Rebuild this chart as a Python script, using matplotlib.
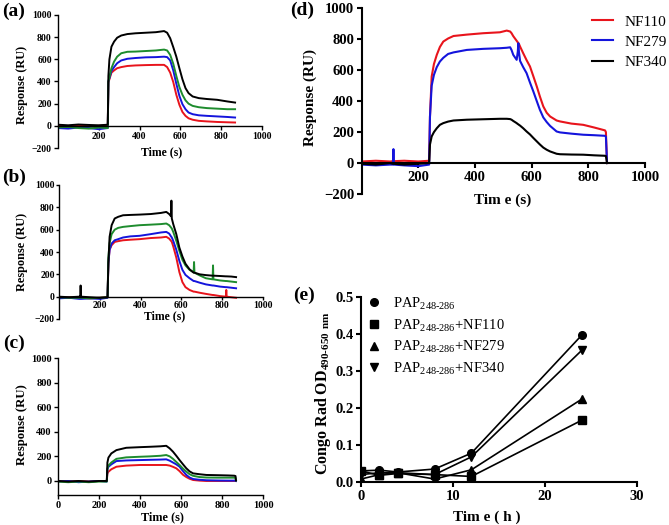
import matplotlib
matplotlib.use('Agg')
import matplotlib.pyplot as plt
from matplotlib.lines import Line2D

plt.rcParams['font.family'] = ['Liberation Serif', 'DejaVu Serif']
plt.rcParams['font.weight'] = 'bold'
plt.rcParams['axes.linewidth'] = 1.1

RED = '#e8141c'
BLUE = '#1414dc'
GREEN = '#1e8c2e'
BLACK = '#000000'

# ---------------- Panel (a) ----------------
t_a = [0, 50, 100, 150, 200, 244, 247, 252, 262, 275, 290, 310, 340, 380, 430, 480, 520,
       535, 550, 565, 580, 595, 610, 625, 640, 660, 690, 730, 780, 830, 868]
a_black = [10, 5, 12, 8, 5, 10, 450, 600, 714, 760, 795, 815, 828, 835, 840, 845, 855,
           840, 790, 710, 624, 520, 420, 340, 295, 265, 250, 242, 235, 220, 210]
a_green = [-15, -10, -20, -25, -15, -20, 400, 440, 520, 580, 624, 655, 668, 670, 675, 680, 688,
           680, 640, 560, 450, 350, 280, 230, 200, 180, 168, 160, 155, 150, 150]
a_blue = [-20, -25, -15, -20, -30, -20, 400, 430, 495, 530, 565, 590, 605, 612, 618, 620, 624,
          620, 590, 500, 380, 270, 195, 150, 120, 105, 95, 90, 85, 80, 75]
a_red = [0, -5, 5, -5, 0, 5, 390, 420, 480, 500, 520, 530, 540, 545, 548, 550, 550,
         530, 480, 395, 280, 190, 125, 90, 68, 55, 45, 40, 35, 32, 30]

# ---------------- Panel (b) ----------------
t_b = [0, 50, 100, 104, 106, 108, 150, 200, 238, 242, 248, 258, 273, 290, 314, 350, 395, 450,
       500, 526, 540, 549, 551, 553, 560, 575, 590, 605, 620, 640, 660, 662, 664, 690, 720,
       753, 755, 757, 790, 818, 820, 822, 845, 868]
b_black = [0, -5, 0, 0, 100, 0, -5, -10, -5, 300, 536, 640, 700, 715, 729, 732, 735, 740,
           750, 759, 740, 720, 860, 700, 650, 560, 440, 360, 295, 245, 215, 215, 215, 200, 193,
           188, 188, 188, 185, 182, 182, 182, 180, 175]
b_green = [-5, -10, -10, -10, -10, -10, -15, -10, -5, 350, 480, 560, 600, 616, 625, 632, 640, 645,
           650, 655, 640, 620, 615, 610, 580, 500, 410, 330, 280, 240, 218, 310, 215, 190, 165,
           155, 280, 155, 145, 140, 140, 140, 135, 130]
b_blue = [-15, -10, -20, -20, -20, -20, -15, -20, -10, 300, 420, 476, 505, 515, 530, 540, 545, 560,
          575, 580, 565, 540, 535, 530, 500, 420, 320, 240, 195, 165, 140, 140, 140, 125, 110,
          100, 100, 100, 90, 85, 85, 85, 80, 75]
b_red = [-10, -5, -10, -10, -10, -10, -15, -10, -5, 300, 420, 461, 490, 497, 505, 510, 515, 525,
         530, 536, 520, 500, 495, 490, 450, 350, 220, 130, 85, 60, 45, 45, 45, 35, 25,
         15, 15, 15, 5, 0, 60, 0, -5, -10]

# ---------------- Panel (c) ----------------
t_c = [0, 50, 100, 150, 200, 238, 241, 246, 260, 285, 333, 400, 447, 500, 528, 545, 561, 577,
       593, 610, 626, 642, 659, 690, 724, 780, 830, 860, 866, 868]
c_black = [0, -5, 0, -5, 0, 0, 150, 190, 224, 251, 270, 275, 278, 282, 286, 265, 238, 205,
           170, 135, 103, 78, 62, 55, 49, 47, 45, 43, 40, 5]
c_green = [-5, -10, -5, -10, -5, -5, 100, 125, 150, 180, 192, 197, 200, 205, 211, 200, 180, 155,
           130, 100, 76, 55, 42, 32, 28, 27, 27, 27, 25, 5]
c_blue = [-5, 0, -10, -5, 0, -5, 95, 115, 135, 162, 167, 170, 172, 174, 176, 165, 150, 135,
          116, 80, 49, 28, 16, 10, 6, 4, 3, 3, 2, 0]
c_red = [0, -5, 0, -5, 0, 0, 60, 75, 95, 116, 125, 130, 130, 130, 130, 125, 115, 103,
         80, 50, 32, 18, 8, 3, 0, 0, 0, 0, 0, 0]

# ---------------- Panel (d) ----------------
t_d = [0, 50, 100, 110, 112, 114, 150, 200, 238, 241, 247, 255, 265, 276, 288, 305, 324, 371,
       429, 488, 512, 524, 529, 535, 547, 551, 553, 555, 559, 570, 582, 594, 606, 618, 629,
       641, 653, 665, 688, 700, 740, 782, 820, 859, 862, 866]
d_nf110 = [10, 15, 10, 12, 12, 12, 15, 10, 15, 300, 559, 640, 699, 750, 785, 805, 821, 830,
           839, 845, 856, 850, 839, 820, 790, 780, 775, 770, 753, 710, 665, 624, 560, 495, 430,
           366, 325, 301, 275, 269, 255, 247, 230, 211, 200, 0]
d_nf279 = [-10, -15, -10, -10, 90, -10, -15, -20, -10, 300, 500, 570, 620, 656, 680, 705, 715, 731,
           738, 742, 745, 748, 730, 699, 667, 720, 774, 720, 660, 620, 581, 520, 462, 400, 344,
           295, 265, 240, 204, 198, 190, 183, 180, 176, 170, 0]
d_nf340 = [-5, -10, 0, -5, -5, -5, -10, -5, 0, 120, 172, 200, 225, 247, 258, 268, 275, 280,
           283, 286, 286, 284, 280, 272, 258, 252, 250, 247, 242, 225, 204, 185, 162, 140, 120,
           100, 86, 75, 60, 57, 55, 54, 50, 47, 45, 0]
d_labels = ['NF110', 'NF279', 'NF340']

# ---------------- Panel (e) ----------------
t_e = [0, 2, 4, 8, 12, 24]
e_pap = [0.030, 0.032, 0.027, 0.035, 0.078, 0.397]
e_nf110 = [0.030, 0.018, 0.023, 0.020, 0.015, 0.167]
e_nf279 = [0.008, 0.020, 0.025, 0.008, 0.033, 0.224]
e_nf340 = [0.020, 0.025, 0.025, 0.020, 0.068, 0.356]
e_labels = ['PAP$_{\\mathregular{248\u2010286}}$',
            'PAP$_{\\mathregular{248\u2010286}}$+NF110',
            'PAP$_{\\mathregular{248\u2010286}}$+NF279',
            'PAP$_{\\mathregular{248\u2010286}}$+NF340']

W, H = 669, 525
fig = plt.figure(figsize=(W / 100, H / 100), dpi=100)


def add_ax(x0, x1, ytop, ybot):
    ax = fig.add_axes([x0 / W, 1 - ybot / H, (x1 - x0) / W, (ybot - ytop) / H])
    ax._px = (x0, x1, ytop, ybot)
    return ax


def style(ax, size, lw, length=3.0, pad=1.5):
    for s in ('top', 'right'):
        ax.spines[s].set_visible(False)
    for s in ('left', 'bottom'):
        ax.spines[s].set_linewidth(lw)
    ax.tick_params(direction='out', length=length, width=lw, labelsize=size, pad=pad)
    for lab in ax.get_xticklabels() + ax.get_yticklabels():
        lab.set_fontweight('bold')


def set_labels(ax, xl, xpos, yl, ypos, xsize, ysize):
    x0, x1, ytop, ybot = ax._px
    ax.set_xlabel(xl, fontsize=xsize, fontweight='bold')
    ax.xaxis.set_label_coords((xpos[0] - x0) / (x1 - x0), (ybot - xpos[1]) / (ybot - ytop))
    ax.xaxis.label.set_va('center')
    ax.set_ylabel(yl, fontsize=ysize, fontweight='bold')
    ax.yaxis.set_label_coords((ypos[0] - x0) / (x1 - x0), (ybot - ypos[1]) / (ybot - ytop))
    ax.yaxis.label.set_va('center')


def sensor_panel(ax, t, series, ylim, zero_axis, xticks, lw_line):
    for vals, c in series:
        ax.plot(t, vals, color=c, lw=lw_line, solid_joinstyle='round')
    ax.set_xlim(0, 1000)
    ax.set_ylim(*ylim)
    if zero_axis:
        ax.spines['bottom'].set_position(('data', 0))
        ax.set_yticks(range(-200, 1001, 200))
    else:
        ax.set_yticks(range(0, 1001, 200))
    ax.set_xticks(xticks)


# (a)
ax_a = add_ax(58, 262, 15, 148)
sensor_panel(ax_a, t_a, [(a_red, RED), (a_blue, BLUE), (a_green, GREEN), (a_black, BLACK)],
             (-200, 1000), True, [200, 400, 600, 800, 1000], 1.4)
style(ax_a, 7, 1.0)
set_labels(ax_a, 'Time (s)', (162, 152.5), 'Response (RU)', (22, 85), 8.5, 8.8)

# (b)
ax_b = add_ax(59, 263, 185, 319)
sensor_panel(ax_b, t_b, [(b_red, RED), (b_blue, BLUE), (b_green, GREEN), (b_black, BLACK)],
             (-200, 1000), True, [200, 400, 600, 800, 1000], 1.4)
style(ax_b, 7, 1.0, length=2.5, pad=0.6)
set_labels(ax_b, 'Time (s)', (165, 316.5), 'Response (RU)', (22, 252), 8.5, 8.8)

# (c)
ax_c = add_ax(58, 263, 358, 495)
sensor_panel(ax_c, t_c, [(c_red, RED), (c_blue, BLUE), (c_green, GREEN), (c_black, BLACK)],
             (-114, 1000), False, [0, 200, 400, 600, 800, 1000], 1.4)
style(ax_c, 7.5, 1.0)
set_labels(ax_c, 'Time (s)', (162, 517.5), 'Response (RU)', (22, 425), 8.8, 9.2)

# (d)
ax_d = add_ax(361.7, 645, 8.3, 194)
for vals, c, lab in [(d_nf110, RED, d_labels[0]), (d_nf279, BLUE, d_labels[1]),
                     (d_nf340, BLACK, d_labels[2])]:
    ax_d.plot(t_d, vals, color=c, lw=1.5, label=lab)
ax_d.set_xlim(0, 1000)
ax_d.set_ylim(-200, 1000)
ax_d.spines['bottom'].set_position(('data', 0))
ax_d.set_yticks(range(-200, 1001, 200))
ax_d.set_xticks([200, 400, 600, 800, 1000])
style(ax_d, 10.5, 1.5, length=3.5, pad=2)
set_labels(ax_d, 'Tim e (s)', (503, 200), 'Response (RU)', (310, 97), 11, 11)
leg_d = ax_d.legend(loc='upper left', bbox_to_anchor=(592 / W, 1 - 15 / H),
                    bbox_transform=fig.transFigure, frameon=False, borderpad=0,
                    borderaxespad=0, handlelength=1.35, handletextpad=0.75,
                    labelspacing=0.42, prop={'family': 'Liberation Serif', 'weight': 'normal',
                                              'size': 11})

# (e)
ax_e = add_ax(361, 637, 297, 482)
markers = ['o', 's', '^', 'v']
handles = []
for vals, m, lab in zip([e_pap, e_nf110, e_nf279, e_nf340], markers, e_labels):
    ax_e.plot(t_e, vals, color='black', lw=1.2, marker=m, markersize=5.5)
    handles.append(Line2D([], [], color='black', marker=m, markersize=5.5, linestyle='none',
                          label=lab))
ax_e.set_xlim(0, 30)
ax_e.set_ylim(0, 0.5)
ax_e.set_xticks([0, 10, 20, 30])
ax_e.set_yticks([0.0, 0.1, 0.2, 0.3, 0.4, 0.5])
ax_e.set_yticklabels(['0.0', '0.1', '0.2', '0.3', '0.4', '0.5'])
style(ax_e, 10.5, 1.5, length=3.5, pad=2)
set_labels(ax_e, 'Tim e ( h )', (487, 517), 'Congo Rad OD$_{\\mathregular{490\u2010650\\ nm}}$',
           (323, 393), 11, 11.5)
ax_e.legend(handles=handles, loc='upper left', bbox_to_anchor=(368 / W, 1 - 295 / H),
            bbox_transform=fig.transFigure, frameon=False, borderpad=0, borderaxespad=0,
            handlelength=0.8, handletextpad=0.9, labelspacing=0.35,
            prop={'family': 'Liberation Serif', 'weight': 'normal', 'size': 10.5})

# panel letters
for txt, x, y in [('(a)', 14, 11), ('(b)', 14, 177), ('(c)', 14, 343), ('(d)', 302, 10),
                  ('(e)', 304, 295)]:
    fig.text(x / W, 1 - y / H, txt, ha='center', va='center', fontsize=14, fontweight='bold')

fig.savefig('out.png', dpi=100)
